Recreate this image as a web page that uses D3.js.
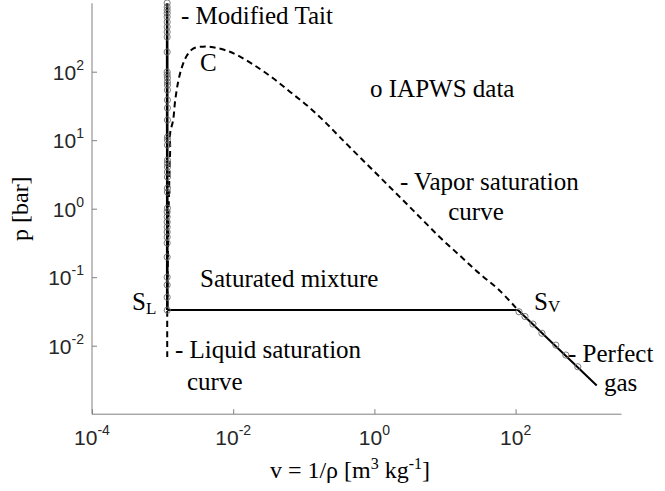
<!DOCTYPE html>
<html><head><meta charset="utf-8">
<script src="https://cdn.jsdelivr.net/npm/d3@7"></script>
<style>body{margin:0;background:#fff}svg{display:block}</style>
</head><body><svg id="c" width="665" height="491"></svg>
<script>
// ---- data ----
const xTicks = [1e-4, 1e-2, 1, 1e2];
const xTickExp = ["-4", "-2", "0", "2"];
const yTicks = [1e-2, 1e-1, 1, 10, 100];
const yTickExp = ["-2", "-1", "0", "1", "2"];

// Modified Tait (solid, liquid)
const taitV = [1.16e-3, 1.165e-3];
const taitP = [1000, 0.0332];
// Saturated mixture (horizontal)
const mixV = [1.165e-3, 108];
const mixP = [0.0332, 0.0332];
// Perfect gas (solid)
const gasV = [108, 1409];
const gasP = [0.0332, 0.00262];
// Saturation curve (dashed, liquid branch -> C -> vapor branch)
const satV = [1.164e-3, 1.164e-3, 1.21e-3, 1.23e-3, 1.25e-3, 1.28e-3, 1.28e-3, 1.41e-3, 1.51e-3, 1.66e-3, 1.86e-3, 2.19e-3, 2.71e-3, 3.75e-3, 5.19e-3, 8.09e-3, 0.0125, 0.0215, 0.0368, 0.0634, 0.109, 0.187, 0.321, 0.617, 1.18, 2.26, 4.34, 8.30, 15.9, 30.5, 58.3, 108];
const satP = [0.00684, 0.0332, 0.757, 1.48, 3.32, 7.19, 12.7, 19.7, 38.6, 70.8, 113, 169, 218, 232, 227, 203, 166, 118, 80.2, 51.1, 32.7, 19.7, 11.2, 5.69, 2.93, 1.50, 0.764, 0.390, 0.211, 0.114, 0.065, 0.0332];
// IAPWS data, liquid
const liqDataV = [1.16e-3, 1.16e-3, 1.16e-3, 1.16e-3, 1.16e-3, 1.16e-3, 1.16e-3, 1.16e-3, 1.16e-3, 1.16e-3, 1.16e-3, 1.16e-3, 1.17e-3, 1.17e-3, 1.17e-3, 1.17e-3, 1.17e-3, 1.17e-3, 1.17e-3, 1.17e-3, 1.17e-3, 1.17e-3, 1.17e-3, 1.17e-3, 1.17e-3, 1.17e-3, 1.17e-3, 1.17e-3, 1.17e-3, 1.17e-3, 1.16e-3, 1.16e-3, 1.16e-3, 1.16e-3, 1.16e-3, 1.16e-3, 1.16e-3, 1.16e-3, 1.16e-3, 1.16e-3, 1.16e-3, 1.165e-3];
const liqDataP = [1007, 880, 794, 713, 630, 532, 450, 380, 321, 194, 99, 90, 81, 71, 64, 54, 38.6, 29.5, 19.7, 11.1, 10.1, 8.5, 5.1, 4.6, 4.06, 3.43, 2.9, 2.0, 1.75, 1.02, 0.9, 0.76, 0.64, 0.54, 0.457, 0.386, 0.315, 0.197, 0.1, 0.077, 0.051, 0.033];
// IAPWS data, vapor
const vapDataV = [111.7, 135.8, 175.9, 236, 371.5, 514, 760];
const vapDataP = [0.0313, 0.0267, 0.0207, 0.0152, 0.0102, 0.00731, 0.00493];

// ---- scales ----
const svg = d3.select("#c");
const xMax = Math.pow(10, 3.5);
const pxPerDecX = 70.6, pxPerDecY = 68.5;
const x = d3.scaleLog().domain([1e-4, xMax]).range([92, 92 + pxPerDecX * Math.log10(xMax / 1e-4)]);
const y = d3.scaleLog().domain([1e-3, 1e3]).range([414.2, 414.2 - 6 * pxPerDecY]);

const axisCol = "#808080", txtCol = "#262626";

// axes lines
svg.append("line").attr("x1", x(1e-4)).attr("x2", x(1e-4)).attr("y1", y(1e3)).attr("y2", y(1e-3)).attr("stroke", axisCol).attr("stroke-width", 1);
svg.append("line").attr("x1", x(1e-4)).attr("x2", x(xMax)).attr("y1", y(1e-3)).attr("y2", y(1e-3)).attr("stroke", axisCol).attr("stroke-width", 1);

const gx = svg.append("g").attr("transform", `translate(0,${y(1e-3)})`)
  .call(d3.axisBottom(x).tickValues(xTicks).tickSize(-5).tickFormat(""));
gx.select(".domain").remove();
gx.selectAll("line").attr("stroke", axisCol);
const gy = svg.append("g").attr("transform", `translate(${x(1e-4)},0)`)
  .call(d3.axisLeft(y).tickValues(yTicks).tickSize(-5).tickFormat(""));
gy.select(".domain").remove();
gy.selectAll("line").attr("stroke", axisCol);

// tick labels
const sans = "Liberation Sans, Arial, sans-serif";
xTicks.forEach((t, i) => {
  const tx = svg.append("text").attr("x", x(t)).attr("y", 445).attr("text-anchor", "middle")
    .attr("font-family", sans).attr("font-size", 21).attr("fill", txtCol);
  tx.append("tspan").text("10");
  tx.append("tspan").attr("dy", -10).attr("font-size", 14).text(xTickExp[i]);
});
yTicks.forEach((t, i) => {
  const tx = svg.append("text").attr("x", 84).attr("y", y(t) + 8).attr("text-anchor", "end")
    .attr("font-family", sans).attr("font-size", 21).attr("fill", txtCol);
  tx.append("tspan").text("10");
  tx.append("tspan").attr("dy", -10).attr("font-size", 14).text(yTickExp[i]);
});

// axis titles
const serif = "Liberation Serif, Times New Roman, serif";
const xt = svg.append("text").attr("x", 350).attr("y", 478).attr("text-anchor", "middle")
  .attr("font-family", serif).attr("font-size", 24).attr("fill", "#000");
xt.append("tspan").text("v = 1/\u03C1 [m");
xt.append("tspan").attr("dy", -9).attr("font-size", 16).text("3");
xt.append("tspan").attr("dy", 9).text(" kg");
xt.append("tspan").attr("dy", -9).attr("font-size", 16).text("-1");
xt.append("tspan").attr("dy", 9).text("]");
svg.append("text").attr("transform", `translate(28,${(y(1e3) + y(1e-3)) / 2}) rotate(-90)`)
  .attr("text-anchor", "middle").attr("font-family", serif).attr("font-size", 24).attr("fill", "#000").text("p [bar]");

// lines
const line = d3.line().x(d => x(d[0])).y(d => y(d[1]));
const zipp = (a, b) => a.map((v, i) => [v, b[i]]);
svg.append("path").attr("d", d3.line().x(d => x(d[0])).y(d => y(d[1])).curve(d3.curveCatmullRom.alpha(0.5))(zipp(satV, satP)))
  .attr("fill", "none").attr("stroke", "#000").attr("stroke-width", 2).attr("stroke-dasharray", "6,4");
svg.append("path").attr("d", line(zipp(taitV, taitP))).attr("fill", "none").attr("stroke", "#000").attr("stroke-width", 2.6);
svg.append("path").attr("d", line(zipp(mixV, mixP))).attr("fill", "none").attr("stroke", "#000").attr("stroke-width", 2);
svg.append("path").attr("d", line(zipp(gasV, gasP))).attr("fill", "none").attr("stroke", "#000").attr("stroke-width", 2);

// markers
const pts = zipp(liqDataV, liqDataP).concat(zipp(vapDataV, vapDataP));
svg.selectAll("circle.d").data(pts).enter().append("circle").attr("class", "d")
  .attr("cx", d => x(d[0])).attr("cy", d => y(d[1])).attr("r", 3.1)
  .attr("fill", "none").attr("stroke", "#6e6e6e").attr("stroke-width", 0.9);

// annotations
function ann(tx, ty, str, anchor) {
  return svg.append("text").attr("x", tx).attr("y", ty).attr("text-anchor", anchor || "start")
    .attr("font-family", serif).attr("font-size", 25).attr("fill", "#000").text(str);
}
ann(181, 24, "- Modified Tait");
ann(200, 71, "C");
ann(370, 97, "o IAPWS data");
ann(400, 190, "- Vapor saturation");
ann(476, 220, "curve", "middle");
ann(200, 287, "Saturated mixture");
ann(175, 358, "- Liquid saturation");
ann(187, 390, "curve");
ann(568, 362, "- Perfect");
ann(604, 391, "gas");
const sl = ann(132, 310, "S");
sl.append("tspan").attr("font-size", 17).attr("dy", 4).text("L");
const sv = ann(534, 310, "S");
sv.append("tspan").attr("font-size", 17).attr("dy", 2).text("V");
</script></body></html>
